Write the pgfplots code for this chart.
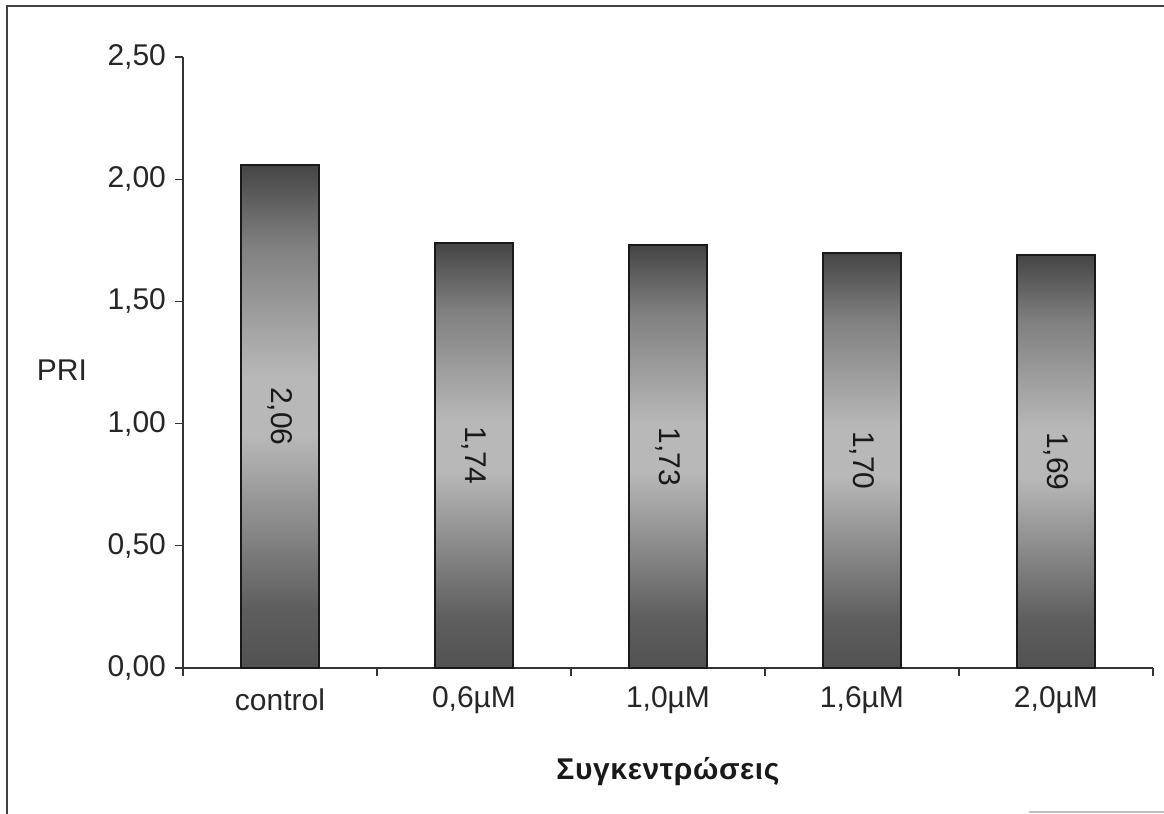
\documentclass[border=0pt]{standalone}
\usepackage{pgfplots}
\pgfplotsset{compat=1.18}
\usepackage{fontspec}
\setmainfont{Liberation Sans}
\newfontfamily\xlabfont[LetterSpace=2]{Liberation Sans}
\pgfdeclareverticalshading{barshade}{100bp}{color(0bp)=(black!68); color(25bp)=(black!68); color(31bp)=(black!63); color(48bp)=(black!28); color(54bp)=(black!28); color(67bp)=(black!50); color(75bp)=(black!73); color(100bp)=(black!73)}
\pgfplotsset{shadedbar/.style={ybar, bar width=0.4, bar shift=0pt, draw=black!90, line width=1pt,
  shade, shading=barshade,
  visualization depends on={y \as \rawy},
  nodes near coords={\fontsize{15}{18}\selectfont\pgfmathprintnumber[fixed,fixed zerofill,precision=2,use comma]{\pgfplotspointmeta}},
  every node near coord/.append style={anchor=center, yshift=-\rawy*61.1pt, rotate=-90, text=black!90}}}
\begin{document}
\begin{tikzpicture}
\useasboundingbox (-91.5pt,-73pt) rectangle (490.5pt,334pt);
\draw[black!75, line width=0.8pt] (-88pt,-73pt) -- (-88pt,331pt) -- (490.5pt,331pt);
\draw[black!25, line width=0.6pt] (423pt,-72pt) -- (490.5pt,-72pt);
\begin{axis}[
  scale only axis,
  width=485pt, height=305.5pt,
  xmin=-0.5, xmax=4.5,
  ymin=0, ymax=2.5,
  axis x line*=bottom,
  axis y line*=left,
  axis line style={black!80, line width=0.7pt},
  ytick={0,0.5,1,1.5,2,2.5},
  xtick={0,1,2,3,4},
  xticklabels={control,{0,6µM},{1,0µM},{1,6µM},{2,0µM}},
  minor xtick={-0.5,0.5,1.5,2.5,3.5,4.5},
  major x tick style={draw=none},
  minor x tick style={black!80, line width=0.6pt},
  ytick style={black!80, line width=0.6pt},
  tick align=outside,
  major tick length=4pt,
  minor tick length=4pt,
  /pgf/number format/.cd, use comma, fixed, fixed zerofill, precision=2, assume math mode=true,
  /pgfplots/.cd,
  tick label style={font=\fontsize{15}{18}\selectfont, text=black!85},
  yticklabel style={anchor=east, xshift=-1pt},
  xticklabel style={anchor=center, yshift=-12pt},
  ylabel={PRI},
  every axis y label/.style={at={(axis description cs:0,0.5)}, anchor=center, xshift=-60.5pt, yshift=-4pt, font=\fontsize{15}{18}\selectfont, text=black!85},
  xlabel={\xlabfont\bfseries Συγκεντρώσεις},
  every axis x label/.style={at={(axis description cs:0.5,0)}, anchor=center, yshift=-52pt, font=\fontsize{15}{18}\selectfont, text=black!90},
  clip=false,
]
\addplot[shadedbar] coordinates {(0,2.06)};
\addplot[shadedbar] coordinates {(1,1.74)};
\addplot[shadedbar] coordinates {(2,1.73)};
\addplot[shadedbar] coordinates {(3,1.70)};
\addplot[shadedbar] coordinates {(4,1.69)};
\end{axis}
\end{tikzpicture}
\end{document}
